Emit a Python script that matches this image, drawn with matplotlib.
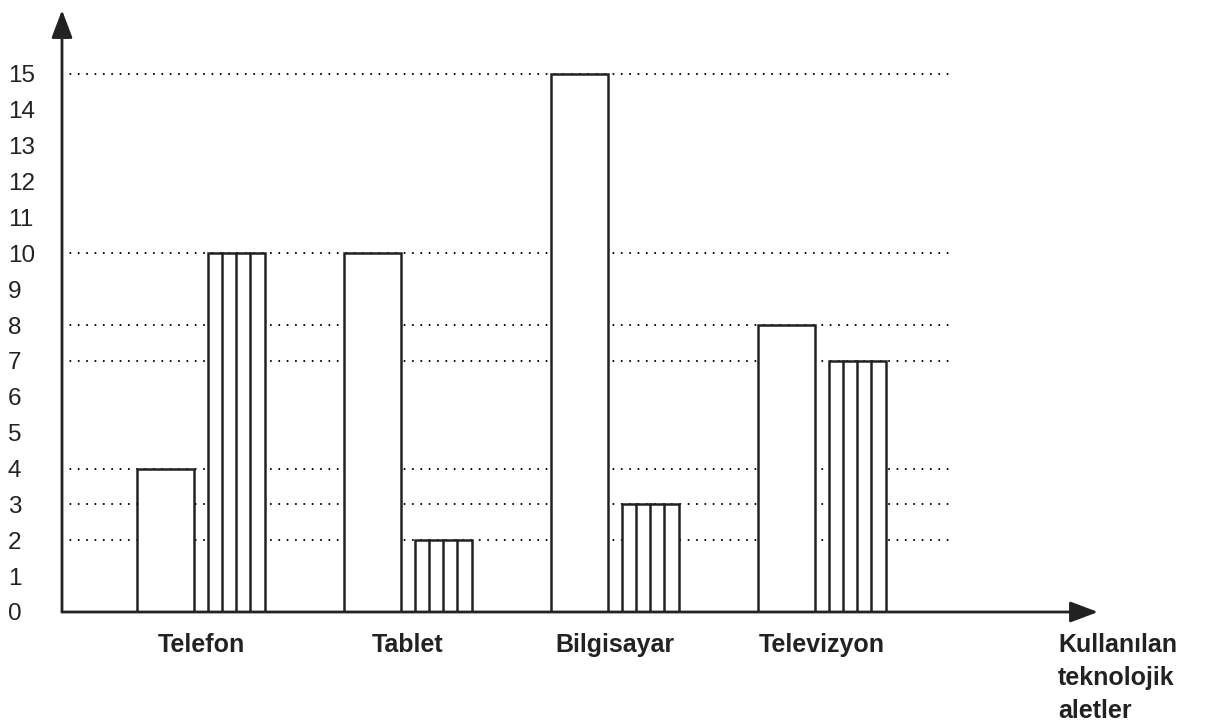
import matplotlib.pyplot as plt
import numpy as np

plt.rcParams['font.family'] = ['Liberation Sans', 'DejaVu Sans']

# values
kategoriler = ['Telefon', 'Tablet', 'Bilgisayar', 'Televizyon']
duz = [4, 10, 15, 8]          # plain (white) bars
cizgili = [10, 2, 3, 7]       # striped bars
y_etiketler = list(range(0, 16))
eksen_adi = ['Kullanılan', 'teknolojik', 'aletler']

fig = plt.figure(figsize=(12.05, 7.28), dpi=100)
ax = fig.add_axes([62 / 1205, 116 / 728, (1098 - 62) / 1205, (718 - 116) / 728])

x = np.arange(len(kategoriler))
w = 0.275
off = 0.17
lw = 1.8

# dotted guide lines at every bar height
for v in sorted(set(duz + cizgili)):
    ax.plot([-0.671, 3.61], [v, v], color='black', lw=1.5,
            linestyle=(0, (0.01, 4)), dash_capstyle='round', zorder=1)

ax.bar(x - off, duz, width=w, color='white', edgecolor='#222222', linewidth=lw, zorder=3)
ax.bar(x + off, cizgili, width=w, color='white', edgecolor='#222222', linewidth=lw, zorder=3)

# vertical stripes inside the second bar of each pair
for xi, v in zip(x + off, cizgili):
    for k in (1, 2, 3):
        xs = xi - w / 2 + k * w / 4
        ax.plot([xs, xs], [0, v], color='#222222', lw=lw, zorder=4)

ax.set_xlim(-0.671, 4.333)
ax.set_ylim(0, (612 - 10) / 35.87)

for s in ax.spines.values():
    s.set_visible(False)

# axes with arrow heads
ok = dict(arrowstyle='-|>,head_length=0.85,head_width=0.32', color='#222222', lw=2.0,
          mutation_scale=20, shrinkA=0, shrinkB=0)
ax.annotate('', xy=(1, 0), xytext=(0, 0), xycoords='axes fraction', arrowprops=ok, zorder=5)
ax.annotate('', xy=(0, 1), xytext=(0, 0), xycoords='axes fraction', arrowprops=ok, zorder=5)

ax.set_yticks(y_etiketler)
ax.set_yticklabels([str(v) for v in y_etiketler], fontsize=17.5, color='#222222')
ax.tick_params(axis='y', length=0, pad=39)
for t in ax.get_yticklabels():
    t.set_horizontalalignment('left')

ax.set_xticks([])
for xi, ad in zip(x, kategoriler):
    ax.text(xi, -0.0548, ad, transform=ax.get_xaxis_transform(), ha='center', va='center',
            fontsize=18, fontweight='bold', color='#222222')

for i, satir in enumerate(eksen_adi):
    fig.text(1058 / 1205, (728 - 645 - 33 * i) / 728, satir, ha='left', va='center',
             fontsize=18, fontweight='bold', color='#222222')

plt.savefig('out.png', dpi=100)
